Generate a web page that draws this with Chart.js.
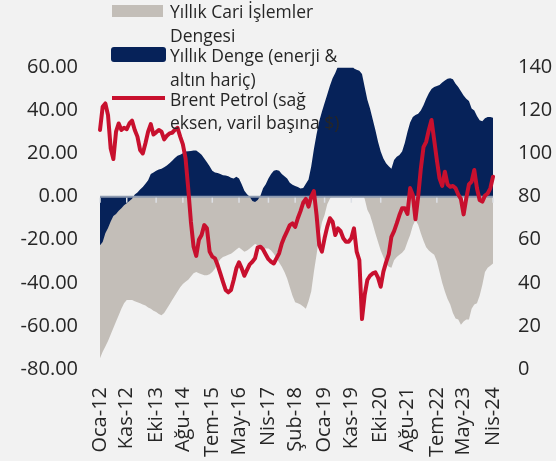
<!DOCTYPE html>
<html><head><meta charset="utf-8">
<script src="https://cdn.jsdelivr.net/npm/chart.js@4.4.1/dist/chart.umd.min.js"></script>
<style>
html,body{margin:0;padding:0;background:#f2f2f2;}
#wrap{position:relative;width:556px;height:461px;overflow:hidden;background:#f2f2f2;font-family:"Open Sans",sans-serif;color:#262626;}
canvas{position:absolute;left:0;top:0;}
.lg{position:absolute;left:170px;white-space:nowrap;font-size:17.5px;line-height:20px;}
.sw{position:absolute;}
</style></head><body>
<div id="wrap">
<canvas id="c" width="556" height="461"></canvas>
<div class="sw" style="left:112px;top:5px;width:51px;height:12px;background:#c3beb8"></div>
<div class="lg" style="top:0.7px">Yıllık Cari İşlemler</div>
<div class="lg" style="top:25px">Dengesi</div>
<div class="sw" style="left:111px;top:47px;width:55px;height:15px;background:#062259;border-radius:3px"></div>
<div class="lg" style="top:45.2px">Yıllık Denge (enerji &amp;</div>
<div class="lg" style="top:69.2px">altın hariç)</div>
<div class="sw" style="left:112px;top:96px;width:53px;height:3.5px;background:#c8102e"></div>
<div class="lg" style="top:88.5px">Brent Petrol (sağ</div>
<div class="lg" style="top:111.7px">eksen, varil başına $)</div>
</div>
<script>
// Categories: monthly, Oca-12 .. Nis-24
const monthNames = ['Oca','Şub','Mar','Nis','May','Haz','Tem','Ağu','Eyl','Eki','Kas','Ara'];
const months = [];
for (let y = 12; y <= 24; y++) {
  for (let m = 0; m < 12; m++) {
    if (y === 24 && m > 3) break;
    months.push(monthNames[m] + '-' + y);
  }
}
const tickLabels = ['Oca-12','Kas-12','Eki-13','Ağu-14','Tem-15','May-16','Nis-17','Şub-18','Oca-19','Kas-19','Eki-20','Ağu-21','Tem-22','May-23','Nis-24'];

// Yıllık Cari İşlemler Dengesi (left axis)
const currentAccount = [
 -75,-72,-69.5,-67,-64,-61,-58,-55,-52,-49.5,-48,-48,
 -48,-48.5,-49,-49.5,-50,-50.5,-51.5,-52,-53,-53.5,-54.5,-55,
 -54,-52,-50,-48,-46,-44,-42,-40.5,-39.5,-38.5,-37,-35.5,
 -35,-35.5,-36,-36.5,-36.5,-36,-35,-33.5,-31,-29,-28,-27.5,
 -27,-26.5,-25.5,-24.5,-23.6,-24.5,-25.5,-25,-24,-23,-22,-22.5,
 -23,-23.5,-24,-24,-25,-26.5,-28.5,-30.5,-32.5,-35,-38,-42,
 -46,-49,-49.5,-50,-51,-52,-48.5,-44,-35,-27,-18.5,-12,
 -8.5,-3.5,-1,1.5,3,4.5,5.5,6.5,7.5,8,8,7,
 5,3,1.5,-1,-6,-8.5,-12.5,-17,-21,-25,-28,-31,
 -32.5,-33,-29.5,-28,-27,-26,-24.5,-21,-17.8,-13.5,-10.8,-13,
 -17,-20.5,-23.5,-25,-26,-27,-30,-35,-40,-44,-47.5,-50,
 -54,-56.5,-57,-59.5,-58,-57,-57,-52,-50,-49.5,-46,-41,
 -35,-33,-32,-31
];
// Yıllık Denge (enerji & altın hariç) (left axis)
const coreBalance = [
 -22.5,-21,-17,-14.5,-11.5,-9,-8,-6.5,-5.4,-4,-3,-2,
 -1,1,2,3.3,4.5,6,7.7,10.5,11.3,12,12.6,13,
 13.7,14.5,15.5,16.7,18,19,19.5,20.2,21,21.1,21.2,21.5,
 21.5,20.5,19.5,17.8,16,14.2,12,11.3,11,10.5,10,9.8,
 9.5,8.8,8.5,9.3,8.5,5.8,2.8,1.2,0,-2,-2.5,-1.5,
 0.5,3.9,5.8,8.5,10.5,12,12.4,12,10.5,9.5,8.5,6.5,
 5.5,5,4.5,3.8,4,6,8,14,22,29,35,39.5,
 43.5,47.5,51.5,55,57.5,60.5,63,64,65,66,62,59.5,
 59,58.5,57,51,45,41,36,31,25.5,21,17.8,15.5,
 14.2,13,17,18.5,19.4,21,25,30,34.5,37,38,38.5,
 40,42.5,45.5,48,50,51,51.4,51.9,53,54,54.8,55,
 54.5,52.5,51,49,47,45.5,44.5,41,40,37.5,35.5,35,
 36.4,37,37,36.7
];
// Brent Petrol (right axis, $/varil)
const brent = [
 111,121.8,123.3,117.9,102.4,97.5,110.2,114,111,112,111.4,114,
 115.3,111,107.9,101.7,100.1,104.8,110.2,113.7,108.9,109.9,111,110.2,
 106.6,108.3,109.4,109.7,111,112,107.9,104.3,97.8,83.9,68.4,56.8,
 52.5,60,62.2,66.8,65.3,54.5,52.2,51.4,48.3,44.4,40.5,36.7,
 35.6,36.7,41.3,46.7,49.5,46.7,43.3,46,48.6,49.8,51.4,56.5,
 56.8,55.5,53.2,51,49.8,49,51.4,53.7,58.3,61.4,64,66.8,
 67.6,66,70,73.3,77.2,79,75.4,80,82.6,71.5,57.6,54.5,
 60.7,66,70,68.4,62.2,65.3,64,60.7,59.1,59.1,60.7,65.3,
 54.5,50.6,23.2,34.4,41.3,43.3,44.4,44.9,42.4,38.2,45.2,49.5,
 53.2,61.4,64,67.6,71.5,74.6,74.6,72,84,80.8,69.5,80,
 93,103,105.5,111,115.6,106.3,97,88.5,85,91.6,85.7,84.6,
 85,83.9,81,78.9,71.8,79.2,85.7,87,92.4,83.9,78.5,77.7,
 80.5,81.5,83.9,89.3
];
const leftTicks = [-80,-60,-40,-20,0,20,40,60];
const rightTicks = [0,20,40,60,80,100,120,140];

const FONT = {family:'"Open Sans", sans-serif', size:20};
const TXT = '#262626';

const zeroAxis = {
  id: 'zeroAxis',
  afterDatasetDraw(chart, args) {
    if (args.index !== 1) return;
    const {ctx, chartArea, scales} = chart;
    const y0 = scales.y.getPixelForValue(0);
    ctx.save();
    ctx.strokeStyle = '#8d9ab0';
    ctx.lineWidth = 2;
    ctx.beginPath(); ctx.moveTo(chartArea.left, y0); ctx.lineTo(chartArea.right, y0); ctx.stroke();
    ctx.strokeStyle = '#dde0e6';
    ctx.lineWidth = 1.5;
    scales.x.ticks.forEach((t, k) => {
      if (!t.label) return;
      const x = scales.x.getPixelForTick(k);
      ctx.beginPath(); ctx.moveTo(x, y0 + 1); ctx.lineTo(x, y0 + 6); ctx.stroke();
    });
    ctx.restore();
  }
};

new Chart(document.getElementById('c'), {
  type: 'line',
  data: {
    labels: months,
    datasets: [
      {label:'Yıllık Cari İşlemler Dengesi', data: currentAccount, yAxisID:'y', order:2,
       fill:'origin', backgroundColor:'#c3beb8', borderWidth:0, pointRadius:0, tension:0},
      {label:'Yıllık Denge (enerji & altın hariç)', data: coreBalance, yAxisID:'y', order:1,
       fill:'origin', backgroundColor:'#062259', borderWidth:0, pointRadius:0, tension:0},
      {label:'Brent Petrol (sağ eksen, varil başına $)', data: brent, yAxisID:'y2', order:0,
       fill:false, borderColor:'#c8102e', borderWidth:4, pointRadius:0, tension:0,
       borderJoinStyle:'round', borderCapStyle:'round'}
    ]
  },
  options: {
    responsive:false, animation:false, devicePixelRatio:1,
    layout:{padding:{top:67.5, left:0, right:0, bottom:0}},
    plugins:{legend:{display:false}, tooltip:{enabled:false}},
    scales:{
      x:{
        type:'category', offset:false,
        grid:{display:false, drawTicks:false}, border:{display:false},
        ticks:{autoSkip:false, maxRotation:90, minRotation:90, padding:18, color:TXT, font:FONT,
          callback:function(v, i){ const l = months[i]; return tickLabels.includes(l) ? l : null; }},
        afterFit:(s)=>{ s.height = 92; }
      },
      y:{
        position:'left', min:-80, max:60,
        afterBuildTicks:(s)=>{ s.ticks = leftTicks.map(v=>({value:v})); },
        grid:{display:false, drawTicks:false}, border:{display:false},
        ticks:{padding:22, color:TXT, font:FONT, callback:(v)=>Number(v).toFixed(2)},
        afterFit:(s)=>{ s.width = 100; }
      },
      y2:{
        position:'right', min:0, max:140,
        afterBuildTicks:(s)=>{ s.ticks = rightTicks.map(v=>({value:v})); },
        grid:{display:false, drawTicks:false}, border:{display:false},
        ticks:{padding:25, color:TXT, font:FONT},
        afterFit:(s)=>{ s.width = 63; }
      }
    }
  },
  plugins:[zeroAxis]
});
</script>
</body></html>
